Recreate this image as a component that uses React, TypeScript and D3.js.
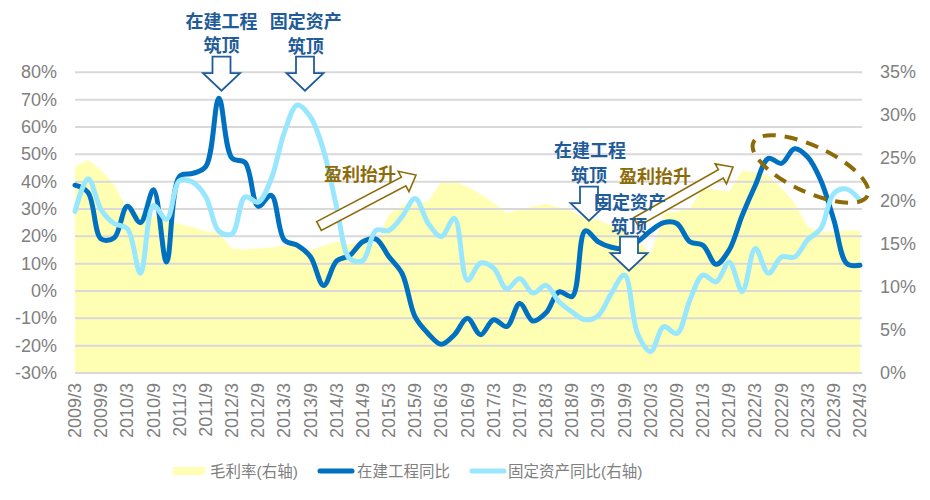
import * as d3 from "d3";

// quarterly categories, 2009/3 .. 2024/3
const quarters = [
  "2009/3", "2009/6", "2009/9", "2009/12", "2010/3", "2010/6", "2010/9", "2010/12",
  "2011/3", "2011/6", "2011/9", "2011/12", "2012/3", "2012/6", "2012/9", "2012/12",
  "2013/3", "2013/6", "2013/9", "2013/12", "2014/3", "2014/6", "2014/9", "2014/12",
  "2015/3", "2015/6", "2015/9", "2015/12", "2016/3", "2016/6", "2016/9", "2016/12",
  "2017/3", "2017/6", "2017/9", "2017/12", "2018/3", "2018/6", "2018/9", "2018/12",
  "2019/3", "2019/6", "2019/9", "2019/12", "2020/3", "2020/6", "2020/9", "2020/12",
  "2021/3", "2021/6", "2021/9", "2021/12", "2022/3", "2022/6", "2022/9", "2022/12",
  "2023/3", "2023/6", "2023/9", "2023/12", "2024/3",
];

// 毛利率 (right axis, %)
const grossMargin = [
  24, 24.8, 23.6, 21.9, 19, 18.6, 18.3, 18, 17.3, 17, 16.5, 16.3, 14.5, 14.4, 14.5, 14.6,
  14.8, 14.9, 14.3, 14.8, 15.3, 15, 15.2, 15, 18.5, 19.5, 19.6, 20, 22.3, 22.3, 21.7, 20.8,
  19.8, 18.6, 19, 19.4, 19.7, 19.3, 18.8, 18, 17.8, 17.2, 16.5, 15.5, 13.8, 18.5, 18.8, 19.2,
  21.5, 21.3, 21.1, 23.6, 23.3, 23, 21.5, 19.8, 17, 16.4, 16.5, 16.6, 16.6,
];

// 在建工程同比 (left axis, %)
const cipYoY = [
  38.7, 36, 19, 19.5, 31, 25, 37, 10.6, 42, 43, 45.5, 70.5, 48.6, 47, 31, 35,
  18.6, 16.7, 12.5, 2, 11, 13, 18, 19, 12.5, 6.4, -9.5, -15.6, -19.5, -16, -10, -16,
  -10.5, -13, -4.6, -11, -8, -0.3, -2, 22, 18, 16, 15.5, 18, 22, 25, 24.7, 18,
  16.7, 9.8, 15, 27.7, 38.7, 48.5, 46.7, 52, 49, 40.5, 26, 10, 9.4,
];

// 固定资产同比 (right axis, %)
const fixedAssetYoY = [
  18.8, 22.6, 19, 17.4, 16.8, 11.6, 19.5, 17.9, 22.4, 22.2, 20.5, 16.5, 16.2, 20.5, 19.9, 22.6,
  28, 31.2, 29.8, 25.9, 19.3, 13.3, 13.1, 16.6, 16.6, 18.2, 20.3, 17.4, 15.9, 18, 10.8, 12.8,
  12.2, 9.8, 11, 9.3, 10.2, 8.3, 7.1, 6.2, 6.7, 9.3, 11.4, 4.6, 2.5, 5.4, 4.6, 8.5,
  11.4, 10.6, 12.9, 9.5, 14.5, 11.6, 13.5, 13.5, 15.5, 16.8, 20.9, 21.4, 20.1,
];

const leftTicks = [-30, -20, -10, 0, 10, 20, 30, 40, 50, 60, 70, 80];
const rightTicks = [0, 5, 10, 15, 20, 25, 30, 35];

const W = 930, H = 500;
const plot = { left: 75, right: 862, top: 72.3, bottom: 373 };

const YELLOW = "#FFFFB3";
const DARK = "#0070C0";
const LIGHT = "#99E6FF";
const GRID = "#D9D9D9";
const LABEL = "#808080";
const NAVY = "#1F5C99";
const GOLD = "#8C6B08";

const latin = "'Liberation Sans', Arial, 'Noto Sans CJK SC', sans-serif";
const cjk = "'Noto Sans CJK SC', 'Liberation Sans', sans-serif";

function downArrow(cx: number, top: number) {
  const sw = 9, shaftH = 16.5, hw = 18.5, headH = 17.5;
  return `M${cx - sw},${top} H${cx + sw} V${top + shaftH} H${cx + hw} L${cx},${top + shaftH + headH} L${cx - hw},${top + shaftH} H${cx - sw} Z`;
}

function blockArrow(len: number) {
  const sw = 4.9, hw = 11.5, hl = 14;
  return `M0,${-sw} H${len - hl} V${-hw} L${len},0 L${len - hl},${hw} V${sw} H0 Z`;
}

function RisingArrow({ x0, y0, x1, y1 }: { x0: number; y0: number; x1: number; y1: number }) {
  const len = Math.hypot(x1 - x0, y1 - y0);
  const ang = (Math.atan2(y1 - y0, x1 - x0) * 180) / Math.PI;
  return (
    <path
      d={blockArrow(len)}
      transform={`translate(${x0},${y0}) rotate(${ang})`}
      fill="#fff"
      stroke={GOLD}
      strokeWidth={1.6}
      strokeLinejoin="miter"
    />
  );
}

export default function App() {
  const x = d3.scalePoint<string>().domain(quarters).range([75, 860]);
  const yL = d3.scaleLinear().domain([-30, 80]).range([plot.bottom, plot.top]);
  const yR = d3.scaleLinear().domain([0, 35]).range([plot.bottom, plot.top]);

  const area = d3
    .area<number>()
    .x((_, i) => x(quarters[i])!)
    .y0(yR(0))
    .y1((d) => yR(d));

  const lineL = d3
    .line<number>()
    .x((_, i) => x(quarters[i])!)
    .y((d) => yL(d))
    .curve(d3.curveCatmullRom.alpha(0.5));

  const lineR = d3
    .line<number>()
    .x((_, i) => x(quarters[i])!)
    .y((d) => yR(d))
    .curve(d3.curveCatmullRom.alpha(0.5));

  const tickLabels = quarters.filter((_, i) => i % 2 === 0);

  return (
    <svg
      width={W}
      height={H}
      style={{ position: "absolute", left: 0, top: 0, background: "#fff" }}
    >
      <path d={area(grossMargin)!} fill={YELLOW} />

      {leftTicks.map((t) => (
        <line
          key={t}
          x1={plot.left}
          x2={plot.right}
          y1={yL(t)}
          y2={yL(t)}
          stroke={GRID}
          strokeWidth={2}
        />
      ))}

      <path d={lineL(cipYoY)!} fill="none" stroke={DARK} strokeWidth={5} strokeLinejoin="round" strokeLinecap="round" />
      <path d={lineR(fixedAssetYoY)!} fill="none" stroke={LIGHT} strokeWidth={5} strokeLinejoin="round" strokeLinecap="round" />

      {/* left axis */}
      {leftTicks.map((t) => (
        <text key={t} x={57} y={yL(t)} textAnchor="end" dominantBaseline="central" fontSize={18} fill={LABEL} fontFamily={latin}>
          {`${t}%`}
        </text>
      ))}
      {/* right axis */}
      {rightTicks.map((t) => (
        <text key={t} x={880} y={yR(t)} textAnchor="start" dominantBaseline="central" fontSize={18} fill={LABEL} fontFamily={latin}>
          {`${t}%`}
        </text>
      ))}
      {/* category axis */}
      {tickLabels.map((q) => (
        <text
          key={q}
          transform={`translate(${x(q)},${383}) rotate(-90)`}
          textAnchor="end"
          dominantBaseline="central"
          fontSize={18}
          fill={LABEL}
          fontFamily={latin}
        >
          {q}
        </text>
      ))}

      {/* annotations */}
      <g fontFamily={cjk} fontWeight="bold" fontSize={18} textAnchor="middle" dominantBaseline="central">
        <path d={downArrow(221.5, 56.7)} fill="#fff" stroke={NAVY} strokeWidth={1.8} />
        <path d={downArrow(305, 56.7)} fill="#fff" stroke={NAVY} strokeWidth={1.8} />
        <text x={221.5} y={20} fill={NAVY}>在建工程</text>
        <text x={221.5} y={44} fill={NAVY}>筑顶</text>
        <text x={305.8} y={20} fill={NAVY}>固定资产</text>
        <text x={305.8} y={45} fill={NAVY}>筑顶</text>

        <RisingArrow x0={319} y0={226} x1={416} y1={175} />
        <text x={360} y={173} fill={GOLD}>盈利抬升</text>

        <path d={downArrow(589, 186.7)} fill="#fff" stroke={NAVY} strokeWidth={1.8} />
        <text x={590} y={149} fill={NAVY}>在建工程</text>
        <text x={589} y={173.5} fill={NAVY}>筑顶</text>

        <RisingArrow x0={636} y0={222} x1={733} y1={167} />
        <text x={655} y={175} fill={GOLD}>盈利抬升</text>

        <path d={downArrow(629, 236.7)} fill="#fff" stroke={NAVY} strokeWidth={1.8} />
        <text x={630} y={200.5} fill={NAVY}>固定资产</text>
        <text x={629} y={225} fill={NAVY}>筑顶</text>

        <ellipse
          cx={810.5}
          cy={169}
          rx={63}
          ry={23}
          transform="rotate(25 810.5 169)"
          fill="none"
          stroke={GOLD}
          strokeWidth={4}
          strokeDasharray="13 9"
        />
      </g>

      {/* legend */}
      <g fontFamily={latin} fontSize={15.5} fill={LABEL} dominantBaseline="central">
        <rect x={173} y={467} width={32} height={8} fill={YELLOW} />
        <text x={210} y={471}>毛利率(右轴)</text>
        <line x1={320} x2={352} y1={471} y2={471} stroke={DARK} strokeWidth={5} strokeLinecap="round" />
        <text x={357} y={471}>在建工程同比</text>
        <line x1={472} x2={504} y1={471} y2={471} stroke={LIGHT} strokeWidth={5} strokeLinecap="round" />
        <text x={508} y={471}>固定资产同比(右轴)</text>
      </g>
    </svg>
  );
}
